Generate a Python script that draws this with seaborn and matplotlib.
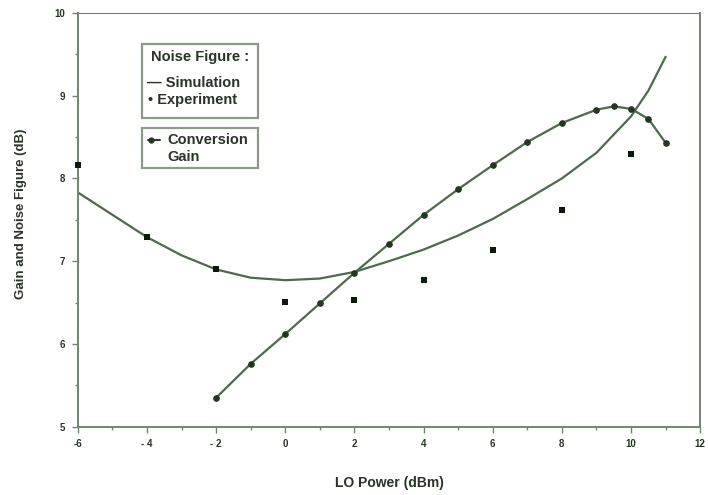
import matplotlib
matplotlib.use("Agg")
import matplotlib.pyplot as plt
from matplotlib.lines import Line2D
from matplotlib.patches import Rectangle
import seaborn as sns
import pandas as pd

# LO power sweep (dBm) and simulated noise figure (dB)
sim_lo = [-6, -5, -4, -3, -2, -1, 0, 1, 2, 3, 4, 5, 6, 7, 8, 9, 10, 10.5, 11]
sim_nf = [7.83, 7.56, 7.29, 7.07, 6.90, 6.80, 6.77, 6.79, 6.87, 7.00, 7.14,
          7.31, 7.51, 7.75, 8.00, 8.31, 8.75, 9.06, 9.47]

# Measured noise figure (dB)
exp_lo = [-6, -4, -2, 0, 2, 4, 6, 8, 10]
exp_nf = [8.16, 7.29, 6.90, 6.51, 6.53, 6.77, 7.14, 7.62, 8.30]

# Conversion gain (dB)
gain_lo = [-2, -1, 0, 1, 2, 3, 4, 5, 6, 7, 8, 9, 9.5, 10, 10.5, 11]
gain_db = [5.35, 5.76, 6.12, 6.49, 6.86, 7.21, 7.56, 7.87, 8.16, 8.44, 8.67,
           8.83, 8.87, 8.84, 8.72, 8.43]

x_ticks = [-6, -4, -2, 0, 2, 4, 6, 8, 10, 12]
x_tick_labels = ["-6", "- 4", "- 2", "0", "2", "4", "6", "8", "10", "12"]
y_ticks = [5, 6, 7, 8, 9, 10]
y_tick_labels = ["5", "6", "7", "8", "9", "10"]

sim_df = pd.DataFrame({"lo": sim_lo, "nf": sim_nf})
exp_df = pd.DataFrame({"lo": exp_lo, "nf": exp_nf})
gain_df = pd.DataFrame({"lo": gain_lo, "gain": gain_db})

sns.set_theme(style="white")
plt.rcParams["font.family"] = ["Liberation Sans", "DejaVu Sans"]

LINE = "#4b6b4b"
DARK = "#24361f"
TEXT = "#263524"
FRAME = "#6e876c"

fig = plt.figure(figsize=(7.08, 4.95), dpi=100)
ax = fig.add_axes([0.110, 0.138, 0.879, 0.836])

sns.lineplot(data=sim_df, x="lo", y="nf", ax=ax, color=LINE, linewidth=1.6,
             sort=False, estimator=None)
sns.lineplot(data=gain_df, x="lo", y="gain", ax=ax, color=LINE, linewidth=1.6,
             marker="o", markersize=4, markerfacecolor=DARK,
             markeredgecolor=DARK, sort=False, estimator=None)
sns.scatterplot(data=exp_df, x="lo", y="nf", ax=ax, marker="s", s=22,
                color="#0d180d", edgecolor="#0d180d", linewidth=0,
                zorder=5, clip_on=False)

ax.set_xlim(-6, 12)
ax.set_ylim(5, 10)
ax.set_xticks(x_ticks)
ax.set_xticklabels(x_tick_labels)
ax.set_yticks(y_ticks)
ax.set_yticklabels(y_tick_labels)
ax.set_xticks([-5, -3, -1, 1, 3, 5, 7, 9, 11], minor=True)
ax.set_yticks([5.5, 6.5, 7.5, 8.5, 9.5], minor=True)
ax.tick_params(axis="both", which="major", direction="out", length=4,
               width=1, color=FRAME, labelsize=7, labelcolor=TEXT, pad=5)
ax.tick_params(axis="both", which="minor", direction="out", length=2,
               width=1, color=FRAME)
ax.tick_params(axis="both", which="both", bottom=True, left=True)
for lab in ax.get_xticklabels() + ax.get_yticklabels():
    lab.set_fontweight("bold")

for side in ["left", "bottom", "right", "top"]:
    ax.spines[side].set_visible(True)
    ax.spines[side].set_color(FRAME)
    ax.spines[side].set_linewidth(1.4)
ax.spines["top"].set_linewidth(0.8)
ax.set_xlabel("")
ax.set_ylabel("")


def px(x, y):
    return x / 708, 1 - y / 495


# Axis titles
fig.text(*px(389, 483), "LO Power (dBm)", fontsize=10, fontweight="bold",
         color=TEXT, ha="center", va="center")
fig.text(*px(21, 214), "Gain and Noise Figure (dB)", fontsize=9.5,
         fontweight="bold", color=TEXT, ha="center", va="center",
         rotation=90)

# Legend boxes
for (x0, y0, x1, y1) in [(142, 44, 258, 118), (142, 128, 258, 168)]:
    fx0, fy1 = px(x0, y0)
    fx1, fy0 = px(x1, y1)
    fig.patches.append(Rectangle((fx0, fy0), fx1 - fx0, fy1 - fy0,
                                 transform=fig.transFigure, fill=False,
                                 edgecolor="#8a9c88", linewidth=1.6))

tkw = dict(fontsize=10.5, fontweight="bold", color=TEXT, va="center",
           ha="left", transform=fig.transFigure)
fig.text(*px(151, 57), "Noise Figure :", **tkw)
fig.text(*px(147, 83), "\u2014 Simulation", **tkw)
fig.text(*px(148, 100), "\u2022 Experiment", **tkw)
fig.text(*px(167, 140), "Conversion", **tkw)
fig.text(*px(167, 157), "Gain", **tkw)
gx0, gy = px(148, 140)
gx1, _ = px(160, 140)
fig.lines.append(Line2D([gx0, gx1], [gy, gy], transform=fig.transFigure,
                        color=DARK, linewidth=1.4))
fig.lines.append(Line2D([gx0 + 0.004], [gy], transform=fig.transFigure,
                        marker="o", markersize=3.5, color=DARK))

fig.savefig("out.png", dpi=100, facecolor="white")
